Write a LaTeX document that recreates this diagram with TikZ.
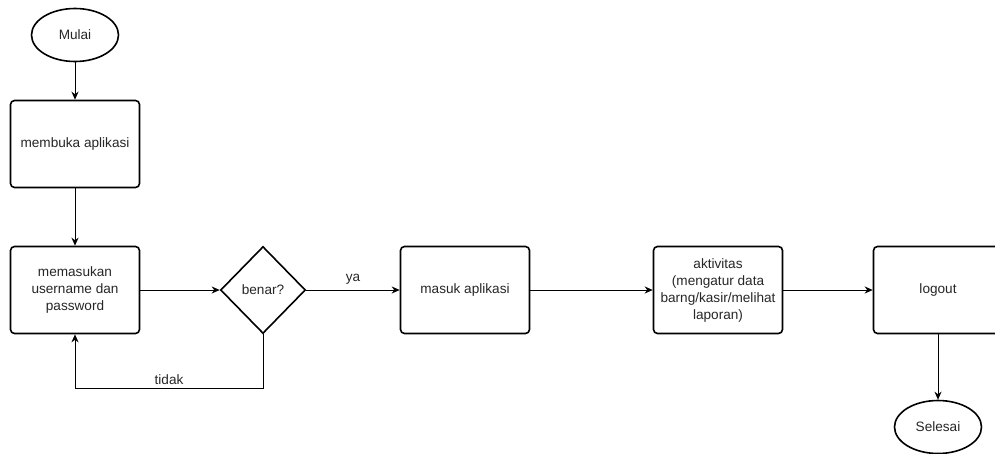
\documentclass[tikz,border=0pt]{standalone}
\usepackage{fontspec}
\setmainfont{Liberation Sans}
\usetikzlibrary{shapes.geometric,arrows.meta}

\begin{document}
\begin{tikzpicture}[x=1pt, y=-1pt, >={Stealth[length=8pt, width=7pt, inset=2.5pt]},
    every node/.style={font=\fontsize{13.6}{17}\selectfont, text=black!85, align=center},
    box/.style={draw, line width=1.6pt, rounded corners=4pt, minimum width=129pt, minimum height=87pt, inner sep=0pt},
    terminal/.style={draw, ellipse, line width=1.6pt, minimum width=87pt, minimum height=53pt, inner sep=0pt},
    decision/.style={draw, diamond, line width=1.6pt, minimum width=85pt, minimum height=87pt, inner sep=0pt},
    flow/.style={->, line width=1pt}]
    \useasboundingbox (0, 0) rectangle (995, 453);
    \clip (0, 0) rectangle (995, 453);
    \def\row{290}
    \node[terminal] (mulai) at (75, 35) {Mulai};
    \node[box] (buka) at (75, 144) {membuka aplikasi};
    \node[box] (input) at (75, \row) {memasukan\\username dan\\password};
    \node[decision] (benar) at (263, \row) {benar?};
    \node[box] (masuk) at (465, \row) {masuk aplikasi};
    \node[box] (aktivitas) at (718, \row) {aktivitas\\(mengatur data\\barng/kasir/melihat\\laporan)};
    \node[box] (logout) at (938, \row) {logout};
    \node[terminal] (selesai) at (938, 427) {Selesai};
    \draw[flow] (mulai) -- (buka);
    \draw[flow] (buka) -- (input);
    \draw[flow] (input) -- (benar);
    \draw[flow] (benar) -- node[above=2pt] {ya} (masuk);
    \draw[flow] (benar.south) -- ++(0, 54) -| node[pos=0.25, above] {tidak} (input.south);
    \draw[flow] (masuk) -- (aktivitas);
    \draw[flow] (aktivitas) -- (logout);
    \draw[flow] (logout) -- (selesai);
\end{tikzpicture}
\end{document}
